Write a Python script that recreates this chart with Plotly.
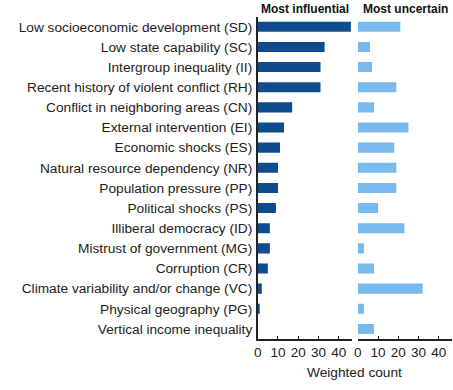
import plotly.graph_objects as go

categories = [
    "Low socioeconomic development (SD)",
    "Low state capability (SC)",
    "Intergroup inequality (II)",
    "Recent history of violent conflict (RH)",
    "Conflict in neighboring areas (CN)",
    "External intervention (EI)",
    "Economic shocks (ES)",
    "Natural resource dependency (NR)",
    "Population pressure (PP)",
    "Political shocks (PS)",
    "Illiberal democracy (ID)",
    "Mistrust of government (MG)",
    "Corruption (CR)",
    "Climate variability and/or change (VC)",
    "Physical geography (PG)",
    "Vertical income inequality",
]
most_influential = [46, 33, 31, 31, 17, 13, 11, 10, 10, 9, 6, 6, 5, 2, 1, 0]
most_uncertain = [21, 6, 7, 19, 8, 25, 18, 19, 19, 10, 23, 3, 8, 32, 3, 8]
tick_vals = [0, 10, 20, 30, 40]
panel_titles = ["Most influential", "Most uncertain"]
x_title = "Weighted count"

W, H = 453, 390
FONT = "Liberation Sans, Arial, sans-serif"


def px(x):
    return x / W


def py(y):
    return 1 - y / H


fig = go.Figure()
fig.add_trace(go.Bar(x=most_influential, y=categories, orientation="h",
                     marker=dict(color="#0f4c8d", line=dict(width=0)),
                     width=0.5, xaxis="x", yaxis="y", showlegend=False))
fig.add_trace(go.Bar(x=most_uncertain, y=categories, orientation="h",
                     marker=dict(color="#78baee", line=dict(width=0)),
                     width=0.5, xaxis="x2", yaxis="y2", showlegend=False))

ydom = [py(339), py(16.7)]
xcommon = dict(range=[0, 46.5], tickvals=tick_vals, ticks="inside", ticklen=3,
               tickcolor="#222", showline=True, linecolor="#222", linewidth=1.5,
               showgrid=False, zeroline=False,
               tickfont=dict(family=FONT, size=13.5, color="#222"))
fig.update_layout(
    width=W, height=H,
    margin=dict(l=0, r=0, t=0, b=0),
    paper_bgcolor="white", plot_bgcolor="white",
    bargap=0.5,
    xaxis=dict(domain=[px(256), px(351)], anchor="y", **xcommon),
    xaxis2=dict(domain=[px(357), px(452)], anchor="y2", **xcommon),
    yaxis=dict(domain=ydom, anchor="x", categoryorder="array",
               categoryarray=categories, autorange="reversed",
               showline=True, linecolor="#222", linewidth=1.5, ticks="",
               showgrid=False, ticklabelstandoff=1,
               tickfont=dict(family=FONT, size=13.7, color="#222")),
    yaxis2=dict(domain=ydom, anchor="x2", categoryorder="array",
                categoryarray=categories, autorange="reversed",
                showline=False, showticklabels=False, ticks="", showgrid=False),
    font=dict(family=FONT),
)

fig.add_annotation(x=px(257), y=py(9), xref="paper", yref="paper",
                   xanchor="left", yanchor="middle", showarrow=False,
                   text="<b>" + panel_titles[0] + "</b>",
                   font=dict(family=FONT, size=12, color="#111"))
fig.add_annotation(x=px(360), y=py(9), xref="paper", yref="paper",
                   xanchor="left", yanchor="middle", showarrow=False,
                   text="<b>" + panel_titles[1] + "</b>",
                   font=dict(family=FONT, size=12, color="#111"))
fig.add_annotation(x=px(354), y=py(372), xref="paper", yref="paper",
                   xanchor="center", yanchor="middle", showarrow=False,
                   text=x_title, font=dict(family=FONT, size=13.7, color="#222"))

fig.write_html("out.html",
               config={"displayModeBar": False},
               post_script="document.body.style.margin='0';"
                           "document.body.style.overflow='hidden';")
